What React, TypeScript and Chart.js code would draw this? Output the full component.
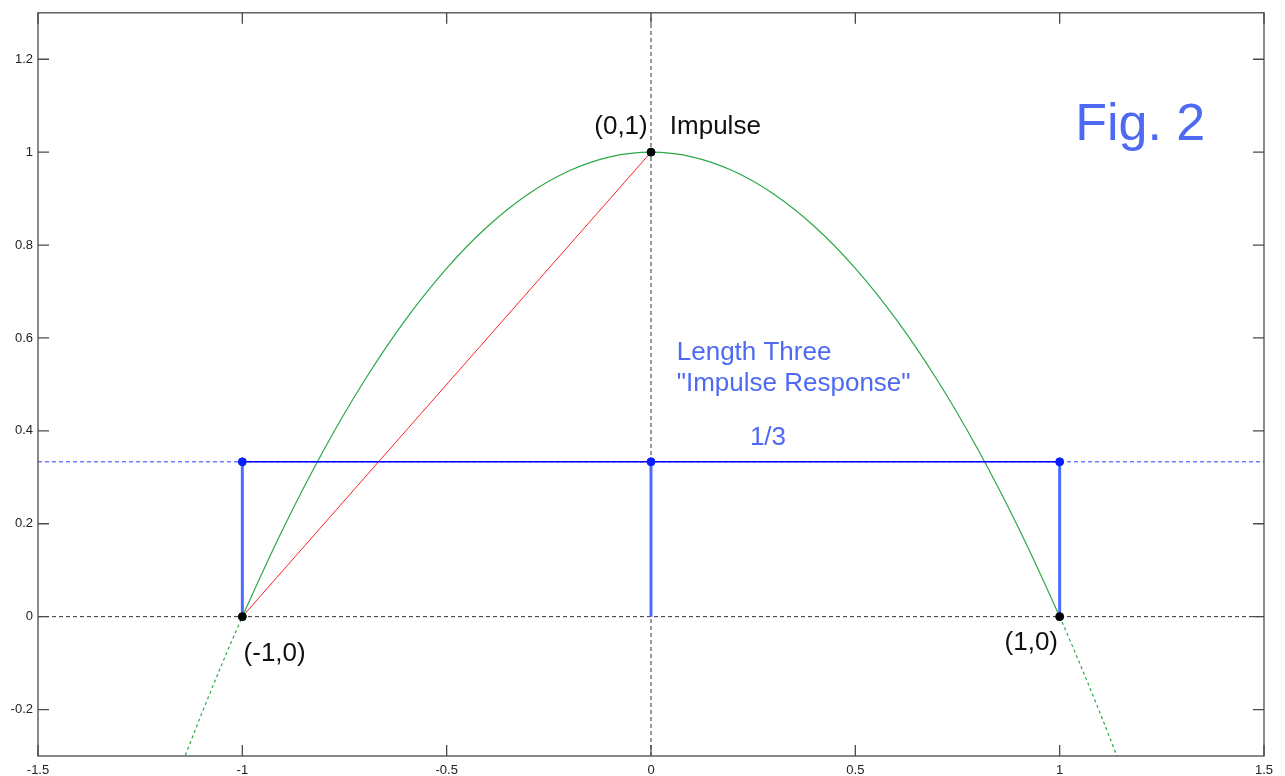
import React, { useEffect, useRef } from "react";
import { Chart, registerables } from "chart.js";

Chart.register(...registerables);

// Axis ranges and ticks
const X_RANGE = [-1.5, 1.5];
const Y_RANGE = [-0.3, 1.3];
const X_TICKS = [-1.5, -1, -0.5, 0, 0.5, 1, 1.5];
const X_TICK_LABELS = ["-1.5", "-1", "-0.5", "0", "0.5", "1", "1.5"];
const Y_TICKS = [-0.2, 0, 0.2, 0.4, 0.6, 0.8, 1, 1.2];
const Y_TICK_LABELS = ["-0.2", "0", "0.2", "0.4", "0.6", "0.8", "1", "1.2"];

// Green curve through the three key points
const CURVE_X = [
  -1.15, -1.1, -1.05, -1, -0.9, -0.8, -0.7, -0.6, -0.5, -0.4, -0.3, -0.2, -0.1, 0,
  0.1, 0.2, 0.3, 0.4, 0.5, 0.6, 0.7, 0.8, 0.9, 1, 1.05, 1.1, 1.15,
];
const CURVE_Y = [
  -0.3225, -0.21, -0.1025, 0, 0.19, 0.36, 0.51, 0.64, 0.75, 0.84, 0.91, 0.96, 0.99, 1,
  0.99, 0.96, 0.91, 0.84, 0.75, 0.64, 0.51, 0.36, 0.19, 0, -0.1025, -0.21, -0.3225,
];

// Red chord from (-1,0) to (0,1)
const CHORD_X = [-1, 0];
const CHORD_Y = [0, 1];

// Length-three impulse response taps
const TAP_X = [-1, 0, 1];
const TAP_Y = [1 / 3, 1 / 3, 1 / 3];

// Key points
const KEY_X = [-1, 0, 1];
const KEY_Y = [0, 1, 0];

const FONT = "'Liberation Sans', Arial, sans-serif";
const TEXT_BLUE = "#4f6af2";

type Note = {
  text: string;
  x: number;
  y: number;
  align: CanvasTextAlign;
  size: number;
  color: string;
};

const NOTES: Note[] = [
  { text: "(0,1)", x: -0.008, y: 1.055, align: "right", size: 26, color: "#111" },
  { text: "Impulse", x: 0.046, y: 1.055, align: "left", size: 26, color: "#111" },
  { text: "(-1,0)", x: -0.997, y: -0.081, align: "left", size: 26, color: "#111" },
  { text: "(1,0)", x: 0.996, y: -0.057, align: "right", size: 26, color: "#111" },
  { text: "Length Three", x: 0.063, y: 0.569, align: "left", size: 26, color: TEXT_BLUE },
  { text: "\"Impulse Response\"", x: 0.063, y: 0.502, align: "left", size: 26, color: TEXT_BLUE },
  { text: "1/3", x: 0.242, y: 0.384, align: "left", size: 26, color: TEXT_BLUE },
  { text: "Fig. 2", x: 1.038, y: 1.056, align: "left", size: 52, color: TEXT_BLUE },
];

const pts = (xs: number[], ys: number[]) => xs.map((x, i) => ({ x, y: ys[i] }));

// Boxed axes with inward tick marks on all four sides
const framePlugin = {
  id: "frameBox",
  afterDatasetsDraw(chart: any) {
    const { ctx, chartArea: a, scales } = chart;
    const L = 11;
    ctx.save();
    ctx.strokeStyle = "#4a4a4a";
    ctx.lineWidth = 1.3;
    ctx.strokeRect(a.left, a.top, a.right - a.left, a.bottom - a.top);
    ctx.beginPath();
    X_TICKS.forEach((v) => {
      const px = scales.x.getPixelForValue(v);
      ctx.moveTo(px, a.bottom);
      ctx.lineTo(px, a.bottom - L);
      ctx.moveTo(px, a.top);
      ctx.lineTo(px, a.top + L);
    });
    Y_TICKS.forEach((v) => {
      const py = scales.y.getPixelForValue(v);
      ctx.moveTo(a.left, py);
      ctx.lineTo(a.left + L, py);
      ctx.moveTo(a.right, py);
      ctx.lineTo(a.right - L, py);
    });
    ctx.stroke();
    ctx.restore();
  },
};

const notesPlugin = {
  id: "notes",
  afterDatasetsDraw(chart: any) {
    const { ctx, scales } = chart;
    ctx.save();
    ctx.textBaseline = "middle";
    NOTES.forEach((n) => {
      ctx.font = `${n.size}px ${FONT}`;
      ctx.fillStyle = n.color;
      ctx.textAlign = n.align;
      ctx.fillText(n.text, scales.x.getPixelForValue(n.x), scales.y.getPixelForValue(n.y));
    });
    ctx.restore();
  },
};

export default function App() {
  const canvasRef = useRef<HTMLCanvasElement | null>(null);

  useEffect(() => {
    if (!canvasRef.current) return;

    const stems = TAP_X.map((x, i) => ({
      type: "scatter" as const,
      data: [
        { x, y: 0 },
        { x, y: TAP_Y[i] },
      ],
      showLine: true,
      borderColor: "#4a6dff",
      borderWidth: 3,
      pointRadius: 0,
      order: 3,
    }));

    const chart = new Chart(canvasRef.current, {
      type: "scatter",
      data: {
        datasets: [
          // black key points
          {
            data: pts(KEY_X, KEY_Y),
            showLine: false,
            pointRadius: 4,
            pointBackgroundColor: "#000",
            pointBorderColor: "#000",
            order: 0,
          },
          // blue tap points
          {
            data: pts(TAP_X, TAP_Y),
            showLine: false,
            pointRadius: 4,
            pointBackgroundColor: "#0a1fff",
            pointBorderColor: "#0a1fff",
            order: 1,
          },
          ...stems,
          // solid blue level line between taps
          {
            data: pts([TAP_X[0], TAP_X[2]], [TAP_Y[0], TAP_Y[2]]),
            showLine: true,
            borderColor: "#0000ff",
            borderWidth: 1.5,
            pointRadius: 0,
            order: 4,
          },
          // red chord
          {
            data: pts(CHORD_X, CHORD_Y),
            showLine: true,
            borderColor: "#ff2020",
            borderWidth: 1,
            pointRadius: 0,
            order: 5,
          },
          // green curve, dotted outside [-1, 1]
          {
            data: pts(CURVE_X, CURVE_Y),
            showLine: true,
            borderColor: "#2aa845",
            borderWidth: 1.2,
            pointRadius: 0,
            cubicInterpolationMode: "monotone",
            segment: {
              borderDash: (c: any) =>
                c.p1.parsed.x <= -1 + 1e-9 || c.p0.parsed.x >= 1 - 1e-9 ? [3, 3] : undefined,
            },
            order: 6,
          },
          // dashed blue guide at 1/3
          {
            data: pts(X_RANGE, [TAP_Y[0], TAP_Y[0]]),
            showLine: true,
            borderColor: "#2a3cff",
            borderWidth: 1,
            borderDash: [4, 3],
            pointRadius: 0,
            order: 7,
          },
          // dashed black axes through origin
          {
            data: pts(X_RANGE, [0, 0]),
            showLine: true,
            borderColor: "#333",
            borderWidth: 1,
            borderDash: [4, 3],
            pointRadius: 0,
            order: 8,
          },
          {
            data: pts([0, 0], Y_RANGE),
            showLine: true,
            borderColor: "#333",
            borderWidth: 1,
            borderDash: [4, 3],
            pointRadius: 0,
            order: 8,
          },
        ] as any,
      },
      options: {
        animation: false,
        responsive: false,
        events: [],
        layout: { padding: { top: 11, right: 21, left: 0, bottom: 0 } },
        plugins: {
          legend: { display: false },
          tooltip: { enabled: false },
        },
        scales: {
          x: {
            type: "linear",
            min: X_RANGE[0],
            max: X_RANGE[1],
            grid: { display: false, drawTicks: false },
            border: { display: false },
            afterBuildTicks: (s: any) => {
              s.ticks = X_TICKS.map((v) => ({ value: v }));
            },
            afterFit: (s: any) => {
              s.height = 20;
            },
            ticks: {
              padding: 7,
              maxRotation: 0,
              autoSkip: false,
              color: "#222",
              font: { family: FONT, size: 13 },
              callback: (_v: any, i: number) => X_TICK_LABELS[i],
            },
          },
          y: {
            type: "linear",
            min: Y_RANGE[0],
            max: Y_RANGE[1],
            grid: { display: false, drawTicks: false },
            border: { display: false },
            afterBuildTicks: (s: any) => {
              s.ticks = Y_TICKS.map((v) => ({ value: v }));
            },
            afterFit: (s: any) => {
              s.width = 38;
            },
            ticks: {
              padding: 5,
              autoSkip: false,
              color: "#222",
              font: { family: FONT, size: 13 },
              callback: (_v: any, i: number) => Y_TICK_LABELS[i],
            },
          },
        },
      },
      plugins: [framePlugin, notesPlugin],
    });

    return () => chart.destroy();
  }, []);

  return (
    <div
      style={{
        position: "fixed",
        left: 0,
        top: 0,
        width: 1285,
        height: 776,
        background: "#fff",
        overflow: "hidden",
      }}
    >
      <canvas ref={canvasRef} width={1285} height={776} style={{ display: "block" }} />
    </div>
  );
}
